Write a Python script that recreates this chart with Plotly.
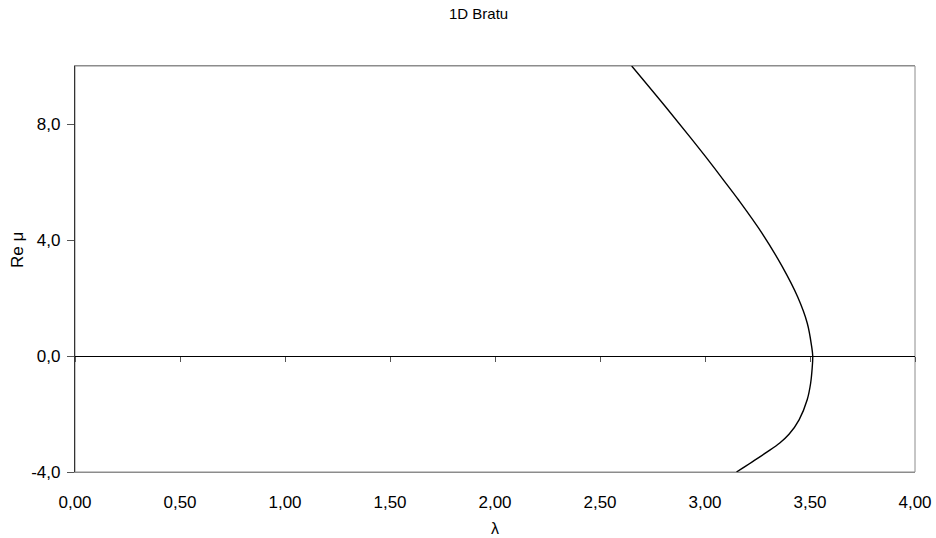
import plotly.graph_objects as go

# Data (1D Bratu: Re mu vs lambda)
lam = [2.651, 2.815, 2.930, 3.000, 3.090, 3.160, 3.272, 3.368, 3.441, 3.487, 3.508, 3.513,
       3.510, 3.503, 3.487, 3.448, 3.400, 3.356, 3.298, 3.225, 3.150]
mu = [10.0, 8.57, 7.54, 6.90, 6.05, 5.38, 4.23, 3.08, 2.04, 1.13, 0.32, 0.0,
      -0.45, -0.94, -1.50, -2.20, -2.70, -3.00, -3.30, -3.65, -4.0]

x_ticks = [0, 0.5, 1.0, 1.5, 2.0, 2.5, 3.0, 3.5, 4.0]
x_tick_labels = ["0,00", "0,50", "1,00", "1,50", "2,00", "2,50", "3,00", "3,50", "4,00"]
y_ticks = [-4, 0, 4, 8]
y_tick_labels = ["-4,0", "0,0", "4,0", "8,0"]

font = "Liberation Sans, Arial, sans-serif"

W, H = 936, 538
L, R, T, B = 75, 21, 66, 66
pw, ph = W - L - R, H - T - B


def px(x):
    return (x - L) / pw


def py(y):
    return (H - B - y) / ph


fig = go.Figure()
fig.add_trace(go.Scatter(x=lam, y=mu, mode="lines",
                         line=dict(color="black", width=1.4, shape="spline", smoothing=1.0),
                         showlegend=False, hoverinfo="skip"))
# invisible trace on the overlay axis that carries the zero line
fig.add_trace(go.Scatter(x=[0, 4], y=[0, 0], xaxis="x2", mode="lines", line=dict(color="rgba(0,0,0,0)"),
                         showlegend=False, hoverinfo="skip"))

fig.update_layout(
    width=W, height=H, autosize=False,
    margin=dict(l=L, r=R, t=T, b=B, autoexpand=False),
    paper_bgcolor="white", plot_bgcolor="white",
    font=dict(family=font, size=17, color="black"),
    xaxis=dict(range=[0, 4], tickvals=x_ticks, ticktext=x_tick_labels, showgrid=False, zeroline=False,
               showline=True, linecolor="#8c8c8c", linewidth=1, mirror=True, ticks="",
               ticklabelstandoff=15, tickfont=dict(size=17), automargin=False),
    xaxis2=dict(range=[0, 4], tickvals=x_ticks, overlaying="x", anchor="free", position=4 / 14,
                showline=True, linecolor="black", linewidth=1.3, ticks="outside", ticklen=5,
                tickcolor="#555555", showticklabels=False, showgrid=False, zeroline=False,
                automargin=False),
    yaxis=dict(range=[-4, 10], tickvals=y_ticks, ticktext=y_tick_labels, showgrid=False, zeroline=False,
               showline=True, linecolor="#333333", linewidth=1.2, ticks="outside", ticklen=7,
               tickcolor="#555555", ticklabelstandoff=3, tickfont=dict(size=17), automargin=False),
    shapes=[dict(type="rect", xref="paper", yref="paper", x0=0, x1=1, y0=0, y1=1,
                 line=dict(color="#8c8c8c", width=1), layer="below")],
)

fig.add_annotation(text="1D Bratu", x=px(478), y=py(14), xref="paper", yref="paper", showarrow=False,
                   font=dict(size=15), xanchor="center", yanchor="middle")
fig.add_annotation(text="λ", x=px(495), y=py(528), xref="paper", yref="paper", showarrow=False,
                   font=dict(size=16), xanchor="center", yanchor="middle")
fig.add_annotation(text="Re μ", x=px(17), y=py(250), xref="paper", yref="paper", showarrow=False,
                   font=dict(size=17), textangle=-90, xanchor="center", yanchor="middle")

fig.write_html("out.html")
